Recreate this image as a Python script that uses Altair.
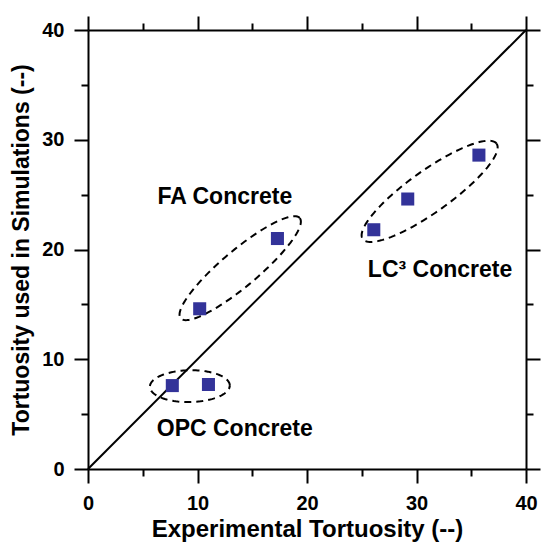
import altair as alt
import numpy as np
import pandas as pd

# ---- data ----
exp_x = [7.7, 11.0, 10.2, 17.3, 26.1, 29.2, 35.7]
sim_y = [7.6, 7.7, 14.6, 21.0, 21.8, 24.6, 28.6]
group = ["OPC", "OPC", "FA", "FA", "LC3", "LC3", "LC3"]

diag_x = [0, 40]
diag_y = [0, 40]

label_text = ["FA Concrete", "LC\u00b3 Concrete", "OPC Concrete"]
label_x = [12.5, 32.15, 13.4]
label_y = [24.15, 17.5, 3.0]

# ellipse annotations: center x, center y, semi-major, semi-minor, angle (deg)
ell_name = ["OPC", "FA", "LC3"]
ell_cx = [9.3, 13.9, 31.2]
ell_cy = [7.55, 18.3, 25.3]
ell_a = [3.65, 7.1, 7.5]
ell_b = [1.45, 1.65, 1.9]
ell_ang = [1.0, 40.0, 35.4]

FONT = "Liberation Sans"
BLUE = "#333399"

pts = pd.DataFrame({"x": exp_x, "y": sim_y, "g": group})
diag = pd.DataFrame({"x": diag_x, "y": diag_y})
labels = pd.DataFrame({"t": label_text, "x": label_x, "y": label_y})

rows = []
t = np.linspace(0, 2 * np.pi, 121)
for n, cx, cy, a, b, ang in zip(ell_name, ell_cx, ell_cy, ell_a, ell_b, ell_ang):
    th = np.deg2rad(ang)
    ex = cx + a * np.cos(t) * np.cos(th) - b * np.sin(t) * np.sin(th)
    ey = cy + a * np.cos(t) * np.sin(th) + b * np.sin(t) * np.cos(th)
    for i, (xx, yy) in enumerate(zip(ex, ey)):
        rows.append({"e": n, "i": i, "x": xx, "y": yy})
ell = pd.DataFrame(rows)

ticks = list(range(0, 41, 5))
tick_cond = {"condition": {"test": "datum.value % 10 === 0", "value": 14}, "value": 7}
lab_expr = "datum.value % 10 === 0 ? datum.label : ''"

xs = alt.Scale(domain=[0, 40], nice=False, zero=False)
ys = alt.Scale(domain=[0, 40], nice=False, zero=False)

common_axis = dict(
    values=ticks, grid=False, domainColor="black", domainWidth=2,
    tickColor="black", tickWidth=2, tickSize=tick_cond,
)

x_bottom = alt.Axis(
    orient="bottom", title="Experimental Tortuosity (--)", labelExpr=lab_expr,
    labelFont=FONT, labelFontSize=20, labelFontWeight="bold", labelColor="black",
    labelPadding=10, titleFont=FONT, titleFontSize=24, titleFontWeight="bold",
    titleColor="black", titlePadding=4, labelFlush=False, labelOverlap=False,
    **common_axis,
)
y_left = alt.Axis(
    orient="left", title="Tortuosity used in Simulations (--)", labelExpr=lab_expr,
    labelFont=FONT, labelFontSize=20, labelFontWeight="bold", labelColor="black",
    labelPadding=10, titleFont=FONT, titleFontSize=23, titleFontWeight="bold",
    titleColor="black", titlePadding=8, labelFlush=False, labelOverlap=False,
    **common_axis,
)
x_top = alt.Axis(orient="top", title=None, labels=False, **common_axis)
y_right = alt.Axis(orient="right", title=None, labels=False, **common_axis)

points = alt.Chart(pts).mark_point(
    shape="square", filled=True, size=170, color=BLUE, opacity=1
).encode(
    x=alt.X("x:Q", scale=xs, axis=x_bottom),
    y=alt.Y("y:Q", scale=ys, axis=y_left),
)

diag_line = alt.Chart(diag).mark_line(color="black", strokeWidth=2).encode(
    x=alt.X("x:Q", scale=xs, axis=x_top),
    y=alt.Y("y:Q", scale=ys, axis=y_right),
)

ellipses = alt.Chart(ell).mark_line(
    color="black", strokeWidth=2, strokeDash=[7, 5]
).encode(
    x=alt.X("x:Q", scale=xs, axis=None),
    y=alt.Y("y:Q", scale=ys, axis=None),
    detail="e:N",
    order="i:Q",
)

texts = alt.Chart(labels).mark_text(
    font=FONT, fontSize=23, fontWeight="bold", color="black",
    align="center", baseline="alphabetic",
).encode(
    x=alt.X("x:Q", scale=xs, axis=None),
    y=alt.Y("y:Q", scale=ys, axis=None),
    text="t:N",
)

chart = alt.layer(ellipses, diag_line, points, texts).resolve_axis(
    x="independent", y="independent"
).properties(
    width=438, height=439,
    padding={"left": 88, "top": 30, "right": 15, "bottom": 74},
    autosize=alt.AutoSizeParams(type="none"),
    background="white",
).configure_view(stroke=None)

chart.save("out.html", embed_options={"renderer": "svg", "actions": False})
